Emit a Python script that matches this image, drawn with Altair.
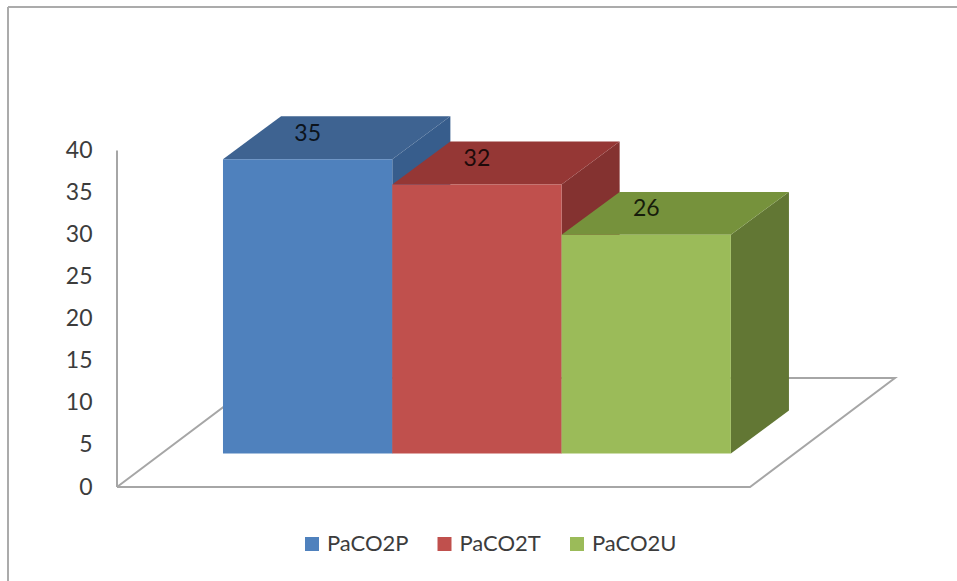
import altair as alt
import pandas as pd

# Chart values
series = ["PaCO2P", "PaCO2T", "PaCO2U"]
values = [35, 32, 26]
tick_values = [0, 5, 10, 15, 20, 25, 30, 35, 40]

# Face colours of each block
front_colors = ["#4F81BD", "#C0504D", "#9BBB59"]
top_colors = ["#3E6391", "#953735", "#76923C"]
side_colors = ["#375D8C", "#843230", "#627734"]

WIDTH, HEIGHT = 957, 581
FONT = "Lato"
TEXT = "#3C3C3C"
LINE = "#A6A6A6"

# One x unit is one bar width; one y unit is one value unit.
PX_PER_BAR = 169.3
PX_PER_VALUE = 8.41
ORIGIN_X, ORIGIN_Y = 117, 487

# Oblique projection of the 3D block and its floor
bar_start = 0.626
bar_lift = 3.98
depth_x = 0.343
depth_y = 5.11
floor_width = 3.739
floor_x = 0.856
floor_y = 12.96
label_lift = 3.05

x_scale = alt.Scale(
    domain=[-ORIGIN_X / PX_PER_BAR, (WIDTH - ORIGIN_X) / PX_PER_BAR],
    range=[0, WIDTH], nice=False, zero=False,
)
y_scale = alt.Scale(
    domain=[-(HEIGHT - ORIGIN_Y) / PX_PER_VALUE, ORIGIN_Y / PX_PER_VALUE],
    range=[HEIGHT, 0], nice=False, zero=False,
)
y_axis = alt.Axis(
    values=tick_values, domain=False, ticks=False, grid=False, offset=-92, title=None,
    labelPadding=0, labelFont=FONT, labelFontSize=23, labelColor=TEXT,
)


def xq(field="x"):
    return alt.X(f"{field}:Q", scale=x_scale, axis=None)


def yq(field="y"):
    return alt.Y(f"{field}:Q", scale=y_scale, axis=y_axis)


# Page frame, open on the right and at the bottom
frame_top = alt.Chart(pd.DataFrame({"a": [0]})).mark_rule(color="#ABABAB", strokeWidth=2).encode(
    x=alt.value(8), x2=alt.value(WIDTH), y=alt.value(7)
)
frame_left = alt.Chart(pd.DataFrame({"a": [0]})).mark_rule(color="#ABABAB", strokeWidth=2).encode(
    x=alt.value(8), y=alt.value(7), y2=alt.value(HEIGHT)
)

# Floor outline and the value axis
floor = pd.DataFrame({
    "x": [0, floor_width, floor_width + floor_x, floor_x, 0],
    "y": [0, 0, floor_y, floor_y, 0],
    "step": [0, 1, 2, 3, 4],
})
floor_layer = alt.Chart(floor).mark_line(color=LINE, strokeWidth=2).encode(
    x=xq(), y=yq(), order="step:Q"
)
axis_layer = alt.Chart(pd.DataFrame({"x": [0], "y": [min(tick_values)], "y2": [max(tick_values)]})).mark_rule(
    color=LINE, strokeWidth=2
).encode(x=xq(), y=yq(), y2="y2:Q")

layers = [frame_top, frame_left, floor_layer, axis_layer]

# Each block: side and top faces first, then the front that overlaps its neighbour
for i, (name, value) in enumerate(zip(series, values)):
    left = bar_start + i
    right = left + 1
    top = value + bar_lift

    side = pd.DataFrame({
        "x": [right, right + depth_x],
        "y": [bar_lift, bar_lift + depth_y],
        "y2": [top, top + depth_y],
    })
    layers.append(
        alt.Chart(side).mark_area(color=side_colors[i], interpolate="linear").encode(
            x=xq(), y=yq(), y2="y2:Q"
        )
    )

    cap = pd.DataFrame({
        "y": [top, top + depth_y],
        "x": [left, left + depth_x],
        "x2": [right, right + depth_x],
    })
    layers.append(
        alt.Chart(cap).mark_area(color=top_colors[i], orient="horizontal", interpolate="linear").encode(
            y=yq(), x=xq(), x2="x2:Q"
        )
    )

    front = pd.DataFrame({
        "x": [left], "x2": [right], "y": [bar_lift], "y2": [top], "series": [name],
    })
    layers.append(
        alt.Chart(front).mark_rect().encode(
            x=xq(), x2="x2:Q", y=yq(), y2="y2:Q",
            color=alt.Color(
                "series:N",
                scale=alt.Scale(domain=series, range=front_colors),
                legend=alt.Legend(
                    orient="none", legendX=301, legendY=533, direction="horizontal",
                    columns=3, columnPadding=24.5, title=None, symbolType="square",
                    symbolSize=196, symbolStrokeWidth=0, labelOffset=4, labelFont=FONT,
                    labelFontSize=22, labelColor=TEXT, symbolOpacity=1,
                ),
            ),
        )
    )

# Value labels sit on the top faces
labels = pd.DataFrame({
    "x": [bar_start + i + 0.5 for i in range(len(values))],
    "y": [v + bar_lift + label_lift for v in values],
    "value": values,
})
layers.append(
    alt.Chart(labels).mark_text(
        font=FONT, fontSize=23, color="#000000", opacity=0.8, baseline="middle", align="center"
    ).encode(x=xq(), y=yq(), text="value:Q")
)

chart = (
    alt.layer(*layers)
    .properties(
        width=WIDTH, height=HEIGHT, padding=0,
        autosize=alt.AutoSizeParams(type="none"), background="white",
    )
    .configure_view(stroke=None)
)

chart.save("out.html", embed_options={"renderer": "svg", "actions": False})
